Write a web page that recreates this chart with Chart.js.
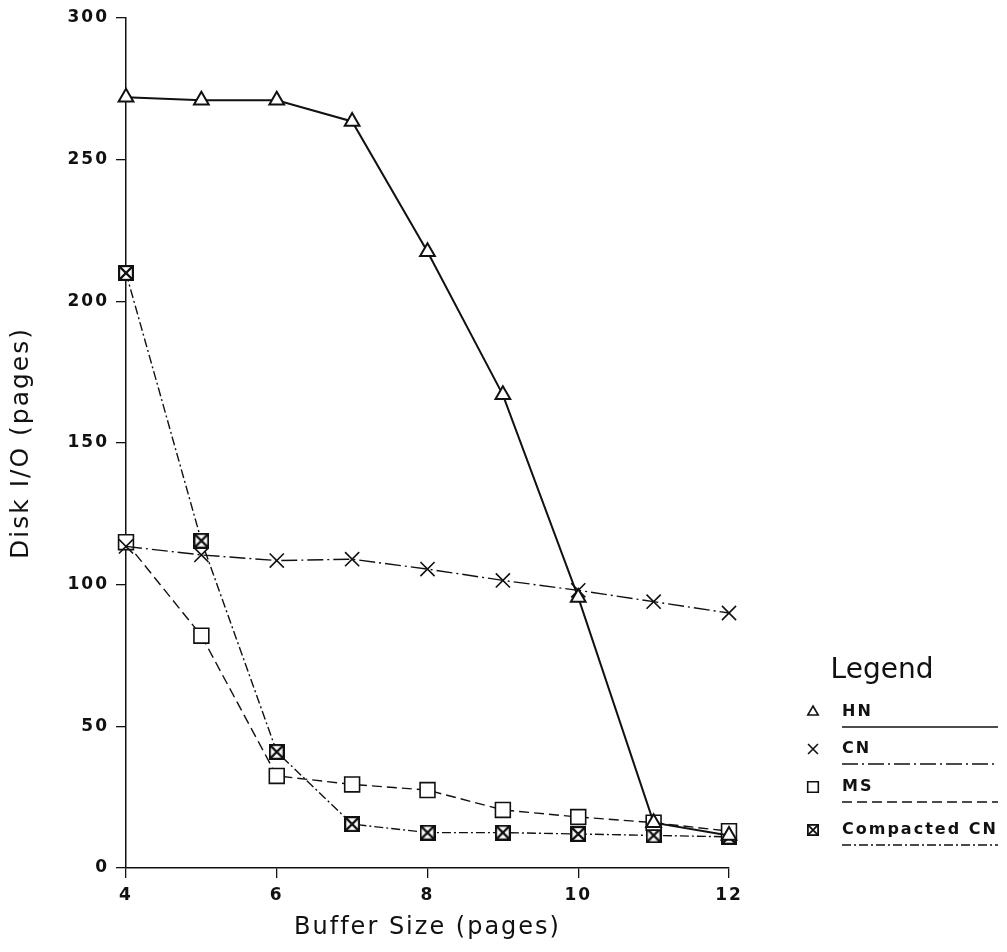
<!DOCTYPE html>
<html>
<head>
<meta charset="utf-8">
<script src="https://cdn.jsdelivr.net/npm/chart.js@4.4.1/dist/chart.umd.min.js"></script>
<style>
  html, body { margin: 0; padding: 0; background: #fff; }
  #wrap { width: 1007px; height: 952px; }
</style>
</head>
<body>
<div id="wrap"><canvas id="c" width="1007" height="952"></canvas></div>
<script>
// ---- data ----
const bufferSizes = [4, 5, 6, 7, 8, 9, 10, 11, 12];
const seriesNames = ['HN', 'CN', 'MS', 'Compacted CN'];
const hnValues = [272, 271, 271, 263.5, 217.5, 167, 95.5, 16, 11.5];
const cnValues = [113.5, 110.5, 108.5, 109, 105.5, 101.5, 98, 94, 90];
const msValues = [115, 82, 32.5, 29.5, 27.5, 20.5, 18, 16, 13];
const compactedValues = [210, 115.5, 41, 15.5, 12.5, 12.5, 12, 11.5, 11];
const xTicks = [4, 6, 8, 10, 12];
const yTicks = [0, 50, 100, 150, 200, 250, 300];

const INK = '#111';
const FONT = '"DejaVu Sans", "Liberation Sans", sans-serif';

// compacted CN marker: box with an X inside
function makeBoxX(size, lw) {
  const cv = document.createElement('canvas');
  cv.width = size; cv.height = size;
  const g = cv.getContext('2d');
  g.fillStyle = '#fff';
  g.fillRect(0, 0, size, size);
  g.strokeStyle = INK;
  g.lineWidth = lw;
  const o = lw / 2;
  g.strokeRect(o, o, size - 2 * o, size - 2 * o);
  g.lineWidth = lw;
  g.beginPath();
  g.moveTo(o, o); g.lineTo(size - o, size - o);
  g.moveTo(size - o, o); g.lineTo(o, size - o);
  g.stroke();
  return cv;
}
const boxX = makeBoxX(16, 2.2);
const boxXSmall = makeBoxX(12, 1.8);

function pts(vals) { return bufferSizes.map((x, i) => ({ x: x, y: vals[i] })); }

const styles = [
  { dash: [], width: 2, pointStyle: 'triangle', radius: 8.5, legendRadius: 6 },
  { dash: [16, 4, 2, 4], width: 1.4, pointStyle: 'crossRot', radius: 10, legendRadius: 7 },
  { dash: [10, 5], width: 1.4, pointStyle: 'rect', radius: 10.5, legendRadius: 7.5 },
  { dash: [9, 3, 2, 3], width: 1.4, pointStyle: boxX, radius: 8, legendRadius: 6 }
];
const allValues = [hnValues, cnValues, msValues, compactedValues];

const datasets = seriesNames.map((name, i) => ({
  label: name,
  data: pts(allValues[i]),
  borderColor: INK,
  backgroundColor: '#fff',
  borderWidth: styles[i].width,
  borderDash: styles[i].dash,
  pointStyle: styles[i].pointStyle,
  pointRadius: styles[i].radius,
  pointBorderWidth: i === 0 ? 2 : 1.6,
  pointBorderColor: INK,
  pointBackgroundColor: '#fff',
  tension: 0,
  fill: false,
  clip: false
}));

const spacingPlugin = {
  id: 'spacing',
  beforeDraw(chart) { try { chart.ctx.letterSpacing = '2px'; } catch (e) {} }
};

const legendPlugin = {
  id: 'customLegend',
  afterDraw(chart) {
    const ctx = chart.ctx;
    ctx.save();
    try { ctx.letterSpacing = '0px'; } catch (e) {}
    ctx.fillStyle = INK;
    ctx.textBaseline = 'middle';
    ctx.textAlign = 'center';
    ctx.font = '28px ' + FONT;
    ctx.fillText('Legend', 882, 671);
    const rows = [712, 749, 787, 830];
    seriesNames.forEach((name, i) => {
      const y = rows[i];
      const st = styles[i];
      ctx.strokeStyle = INK;
      ctx.fillStyle = '#fff';
      ctx.lineWidth = 1.6;
      ctx.setLineDash([]);
      if (i === 3) {
        ctx.drawImage(boxXSmall, 813 - 6, y - 6);
      } else {
        Chart.helpers.drawPoint(ctx, { pointStyle: st.pointStyle, radius: st.legendRadius, rotation: 0, borderWidth: 1.6 }, 813, y);
      }
      ctx.fillStyle = INK;
      ctx.textAlign = 'left';
      ctx.font = 'bold 16px ' + FONT;
      try { ctx.letterSpacing = '2px'; } catch (e) {}
      ctx.fillText(name, 842, y);
      try { ctx.letterSpacing = '0px'; } catch (e) {}
      ctx.beginPath();
      ctx.lineWidth = 1.3;
      ctx.setLineDash(st.dash.length ? st.dash : []);
      ctx.moveTo(842, y + 15);
      ctx.lineTo(998, y + 15);
      ctx.stroke();
    });
    ctx.restore();
  }
};

new Chart(document.getElementById('c'), {
  type: 'line',
  data: { datasets: datasets },
  options: {
    responsive: false,
    animation: false,
    devicePixelRatio: 1,
    layout: { padding: { top: 18, right: 278, bottom: 0, left: 0 } },
    plugins: { legend: { display: false }, tooltip: { enabled: false } },
    scales: {
      x: {
        type: 'linear',
        min: 4, max: 12,
        afterBuildTicks: (s) => { s.ticks = xTicks.map(v => ({ value: v })); },
        afterFit: (s) => { s.height = 84; },
        ticks: { color: INK, font: { family: FONT, size: 17, weight: 'bold' }, padding: 7, maxRotation: 0 },
        grid: { display: true, drawOnChartArea: false, drawTicks: true, tickLength: 10, color: INK, lineWidth: 1.3 },
        border: { display: true, color: INK, width: 1.5 },
        title: { display: true, text: 'Buffer Size (pages)', color: INK, font: { family: FONT, size: 24 }, padding: { top: 0, bottom: 10 } }
      },
      y: {
        type: 'linear',
        min: 0, max: 300,
        afterBuildTicks: (s) => { s.ticks = yTicks.map(v => ({ value: v })); },
        afterFit: (s) => { s.width = 126; },
        ticks: { color: INK, font: { family: FONT, size: 17, weight: 'bold' }, padding: 7 },
        grid: { display: true, drawOnChartArea: false, drawTicks: true, tickLength: 10, color: INK, lineWidth: 1.3 },
        border: { display: true, color: INK, width: 1.5 },
        title: { display: true, text: 'Disk I/O (pages)', color: INK, font: { family: FONT, size: 25 }, padding: { top: 6, bottom: 0 } }
      }
    }
  },
  plugins: [spacingPlugin, legendPlugin]
});
</script>
</body>
</html>
